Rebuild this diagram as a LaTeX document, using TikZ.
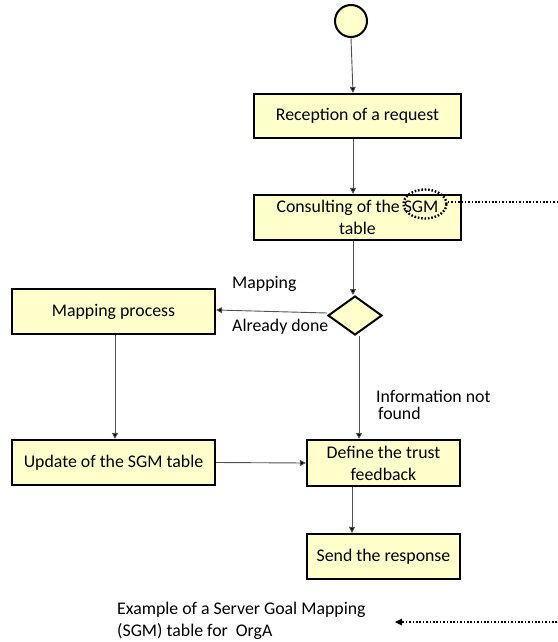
\documentclass[tikz,border=0pt]{standalone}
\usepackage{fontspec}
\setmainfont{Carlito}
\usetikzlibrary{arrows.meta,shapes.geometric}
\definecolor{boxfill}{RGB}{255,255,204}
\definecolor{linegray}{RGB}{80,80,80}
\begin{document}
\begin{tikzpicture}[x=1pt,y=-1pt,
  every node/.style={font=\fontsize{17.8}{22}\selectfont},
  actbox/.style={draw=black,line width=2.2pt,fill=boxfill,inner sep=0pt,align=center},
  arr/.style={draw=linegray,line width=0.9pt,-{Triangle[length=6pt,width=6pt,fill=black]}},
  dotline/.style={draw=black,line width=2.4pt,dash pattern=on 1.6pt off 1.8pt},
  lbl/.style={anchor=west,inner sep=0pt,align=left}]
\useasboundingbox (0,0) rectangle (557,642);
% nodes
\node[circle,draw=black,line width=2pt,fill=boxfill,minimum size=32pt,inner sep=0pt] (start) at (351,21) {};
\node[actbox,minimum width=207pt,minimum height=44pt] (recep) at (357.5,116) {Reception of a request};
\node[actbox,minimum width=207pt,minimum height=45pt] (consult) at (357.5,217.5) {Consulting of the SGM\\table};
\node[diamond,draw=black,line width=2pt,fill=boxfill,minimum width=54pt,minimum height=39pt,inner sep=0pt] (dia) at (355,315.5) {};
\node[actbox,minimum width=203pt,minimum height=45pt] (mapproc) at (113.5,311.5) {Mapping process};
\node[actbox,minimum width=203pt,minimum height=45pt] (update) at (113.5,462.5) {Update of the SGM table};
\node[actbox,minimum width=153pt,minimum height=46pt] (define) at (383.5,463) {Define the trust\\feedback};
\node[actbox,minimum width=153pt,minimum height=45pt] (send) at (383.5,556.5) {Send the response};
% labels
\node[lbl] (lmap) at (232,284) {Mapping};
\node[lbl] (ldone) at (232,327) {Already done};
\node[lbl] (linfo) at (376,405) {Information not\\[-5pt]\hspace*{2pt}found};
\node[lbl] (lex) at (117,621) {Example of a Server Goal Mapping\\(SGM) table for\ \ OrgA};
% SGM highlight
\node[ellipse,dotline,minimum width=43pt,minimum height=29pt,inner sep=0pt] (sgm) at (425,204) {};
\coordinate (rtop) at (557,202);
\coordinate (rbot) at (557,622);
\coordinate (ltip) at (395,622);
% connectors
\draw[arr] (start.south) -- ([xshift=2pt]start.south |- recep.north);
\draw[arr] ([xshift=-4.5pt]recep.south) -- ([xshift=-4.5pt]consult.north);
\draw[arr] ([xshift=-4.5pt]consult.south) -- ([xshift=-2pt]dia.north);
\draw[arr] (dia.west |- mapproc.east) ++(0,1.5) -- ([yshift=1.5pt]mapproc.east);
\draw[arr] ([xshift=4pt]dia.south) -- ([xshift=4pt]dia.south |- define.north);
\draw[arr] ([xshift=1.5pt]mapproc.south) -- ([xshift=1.5pt]update.north);
\draw[arr] (update.east) -- (define.west);
\draw[arr] ([xshift=-31.5pt]define.south) -- ([xshift=-31.5pt]send.north);
\draw[dotline] (sgm.east |- rtop) -- (rtop);
\draw[dotline] (rbot) -- ([xshift=6pt]ltip);
\draw[draw=none,fill=black] (ltip) -- ++(7,-3.5) -- ++(0,7) -- cycle;
\end{tikzpicture}
\end{document}
